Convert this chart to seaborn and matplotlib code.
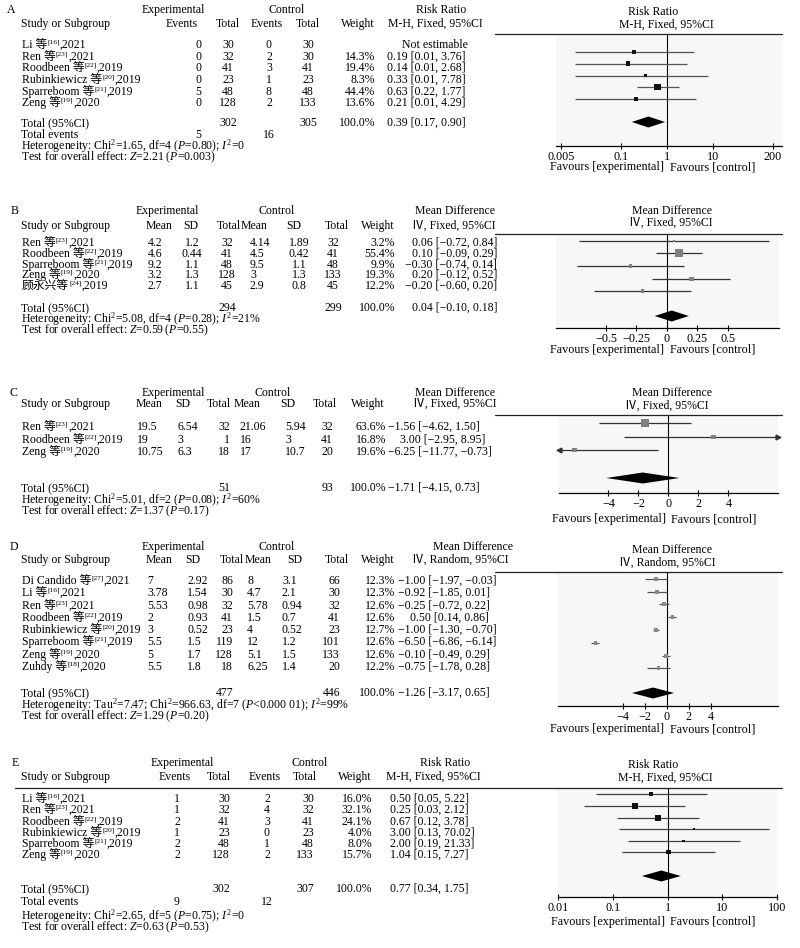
import numpy as np
import pandas as pd
import matplotlib
matplotlib.use('Agg')
import matplotlib.pyplot as plt
from matplotlib.ticker import NullLocator
import seaborn as sns

# ──────────────────────────────────────────────────────────────
# Data
# ──────────────────────────────────────────────────────────────

# A — risk ratio
a_study = ['Li', 'Ren', 'Roodbeen', 'Rubinkiewicz', 'Sparreboom', 'Zeng']
a_ref = [16, 23, 22, 20, 21, 19]
a_year = [2021, 2021, 2019, 2019, 2019, 2020]
a_exp_events = [0, 0, 0, 0, 5, 0]
a_exp_total = [30, 32, 41, 23, 48, 128]
a_ctl_events = [0, 2, 3, 1, 8, 2]
a_ctl_total = [30, 30, 41, 23, 48, 133]
a_weight = [np.nan, 14.3, 19.4, 8.3, 44.4, 13.6]
a_est = [np.nan, 0.19, 0.14, 0.33, 0.63, 0.21]
a_lo = [np.nan, 0.01, 0.01, 0.01, 0.22, 0.01]
a_hi = [np.nan, 3.76, 2.68, 7.78, 1.77, 4.29]
a_pooled = [0.39, 0.17, 0.90]
a_totals = [302, 305]
a_events = [5, 16]
a_het = r"Heterogeneity: Chi$^2$=1.65, df=4 ($P$=0.80); $I^2$=0"
a_test = r"Test for overall effect: $Z$=2.21 ($P$=0.003)"

# B — mean difference, fixed
b_study = ['Ren', 'Roodbeen', 'Sparreboom', 'Zeng', '顾永兴']
b_ref = [23, 22, 21, 19, 24]
b_year = [2021, 2019, 2019, 2020, 2019]
b_exp_mean = [4.2, 4.6, 9.2, 3.2, 2.7]
b_exp_sd = [1.2, 0.44, 1.1, 1.3, 1.1]
b_exp_n = [32, 41, 48, 128, 45]
b_ctl_mean = [4.14, 4.5, 9.5, 3, 2.9]
b_ctl_sd = [1.89, 0.42, 1.1, 1.3, 0.8]
b_ctl_n = [32, 41, 48, 133, 45]
b_weight = [3.2, 55.4, 9.9, 19.3, 12.2]
b_est = [0.06, 0.10, -0.30, 0.20, -0.20]
b_lo = [-0.72, -0.09, -0.74, -0.12, -0.60]
b_hi = [0.84, 0.29, 0.14, 0.52, 0.20]
b_pooled = [0.04, -0.10, 0.18]
b_totals = [294, 299]
b_het = r"Heterogeneity: Chi$^2$=5.08, df=4 ($P$=0.28); $I^2$=21%"
b_test = r"Test for overall effect: $Z$=0.59 ($P$=0.55)"

# C — mean difference, fixed
c_study = ['Ren', 'Roodbeen', 'Zeng']
c_ref = [23, 22, 19]
c_year = [2021, 2019, 2020]
c_exp_mean = [19.5, 19, 10.75]
c_exp_sd = [6.54, 3, 6.3]
c_exp_n = [32, 1, 18]
c_ctl_mean = [21.06, 16, 17]
c_ctl_sd = [5.94, 3, 10.7]
c_ctl_n = [32, 41, 20]
c_weight = [63.6, 16.8, 19.6]
c_est = [-1.56, 3.00, -6.25]
c_lo = [-4.62, -2.95, -11.77]
c_hi = [1.50, 8.95, -0.73]
c_pooled = [-1.71, -4.15, 0.73]
c_totals = [51, 93]
c_het = r"Heterogeneity: Chi$^2$=5.01, df=2 ($P$=0.08); $I^2$=60%"
c_test = r"Test for overall effect: $Z$=1.37 ($P$=0.17)"

# D — mean difference, random
d_study = ['Di Candido', 'Li', 'Ren', 'Roodbeen', 'Rubinkiewicz', 'Sparreboom', 'Zeng', 'Zuhdy']
d_ref = [27, 16, 23, 22, 20, 21, 19, 18]
d_year = [2021, 2021, 2021, 2019, 2019, 2019, 2020, 2020]
d_exp_mean = [7, 3.78, 5.53, 2, 3, 5.5, 5, 5.5]
d_exp_sd = [2.92, 1.54, 0.98, 0.93, 0.52, 1.5, 1.7, 1.8]
d_exp_n = [86, 30, 32, 41, 23, 119, 128, 18]
d_ctl_mean = [8, 4.7, 5.78, 1.5, 4, 12, 5.1, 6.25]
d_ctl_sd = [3.1, 2.1, 0.94, 0.7, 0.52, 1.2, 1.5, 1.4]
d_ctl_n = [66, 30, 32, 41, 23, 101, 133, 20]
d_weight = [12.3, 12.3, 12.6, 12.6, 12.7, 12.6, 12.6, 12.2]
d_est = [-1.00, -0.92, -0.25, 0.50, -1.00, -6.50, -0.10, -0.75]
d_lo = [-1.97, -1.85, -0.72, 0.14, -1.30, -6.86, -0.49, -1.78]
d_hi = [-0.03, 0.01, 0.22, 0.86, -0.70, -6.14, 0.29, 0.28]
d_pooled = [-1.26, -3.17, 0.65]
d_totals = [477, 446]
d_het = r"Heterogeneity: Tau$^2$=7.47; Chi$^2$=966.63, df=7 ($P$<0.000 01); $I^2$=99%"
d_test = r"Test for overall effect: $Z$=1.29 ($P$=0.20)"

# E — risk ratio
e_study = ['Li', 'Ren', 'Roodbeen', 'Rubinkiewicz', 'Sparreboom', 'Zeng']
e_ref = [16, 23, 22, 20, 21, 19]
e_year = [2021, 2021, 2019, 2019, 2019, 2020]
e_exp_events = [1, 1, 2, 1, 2, 2]
e_exp_total = [30, 32, 41, 23, 48, 128]
e_ctl_events = [2, 4, 3, 0, 1, 2]
e_ctl_total = [30, 32, 41, 23, 48, 133]
e_weight = [16.0, 32.1, 24.1, 4.0, 8.0, 15.7]
e_est = [0.50, 0.25, 0.67, 3.00, 2.00, 1.04]
e_lo = [0.05, 0.03, 0.12, 0.13, 0.19, 0.15]
e_hi = [5.22, 2.12, 3.78, 70.02, 21.33, 7.27]
e_pooled = [0.77, 0.34, 1.75]
e_totals = [302, 307]
e_events = [9, 12]
e_het = r"Heterogeneity: Chi$^2$=2.65, df=5 ($P$=0.75); $I^2$=0"
e_test = r"Test for overall effect: $Z$=0.63 ($P$=0.53)"

RR_TOP = ['Experimental', 'Control', 'Risk Ratio']
RR_SUB = ['Events', 'Total', 'Events', 'Total', 'Weight', 'M-H, Fixed, 95%CI']
MD_TOP = ['Experimental', 'Control', 'Mean Difference']
MD_SUB = ['Mean', 'SD', 'Total', 'Mean', 'SD', 'Total', 'Weight', 'Ⅳ, Fixed, 95%CI']
MD_SUB_R = MD_SUB[:-1] + ['Ⅳ, Random, 95%CI']

# ──────────────────────────────────────────────────────────────
# Layout (pixel positions on the 800x948 canvas)
# ──────────────────────────────────────────────────────────────

W, H = 800, 948
FS = 8.5

LAY = {
    'A': dict(lx=7, h1=10, h2=24, line=34, lx0=495,
              top=[173, 287, 441],
              sub=[(182, 'center'), (228, 'center'), (267, 'center'), (308, 'center'),
                   (375, 'right'), (435, 'center')],
              cols=[(198, 'center'), (228, 'center'), (269, 'center'), (308, 'center'),
                    (375, 'right'), (387, 'left')],
              rows=[45, 57, 68, 80, 92, 103], total=123, events=135, het=146, test=157,
              ax=(556, 782, 34, 146), prow=[40.5, 52, 63.5, 75.5, 87, 99], pdiam=122,
              ph=[(653, 12), (666, 25)], fav=167),
    'B': dict(lx=11, h1=211, h2=226, line=234, lx0=495,
              top=[167, 277, 455],
              sub=[(159, 'center'), (191, 'center'), (229, 'center'), (254, 'center'),
                   (294, 'center'), (337, 'center'), (395, 'right'), (454, 'center')],
              cols=[(155, 'center'), (192, 'center'), (227, 'center'), (250, 'left'),
                    (299, 'center'), (333, 'center'), (395, 'right'), (497, 'right')],
              rows=[243, 254, 265, 275, 286], total=308, het=319, test=330,
              ax=(556, 779, 234, 328), prow=[241, 253, 266, 279, 291], pdiam=316,
              ph=[(672, 211), (671, 223)], fav=350),
    'C': dict(lx=10, h1=393, h2=404, line=415, lx0=495,
              top=[173, 273, 455],
              sub=[(149, 'center'), (183, 'center'), (219, 'center'), (247, 'center'),
                   (288, 'center'), (325, 'center'), (385, 'right'), (455, 'center')],
              cols=[(137, 'left'), (177, 'left'), (230, 'right'), (240, 'left'),
                    (285, 'left'), (327, 'center'), (386, 'right'), (388, 'signed')],
              rows=[427, 440, 452], total=488, het=500, test=511,
              ax=(559, 778, 415, 493), prow=[423, 437, 450], pdiam=478,
              ph=[(672, 393), (667, 406)], fav=519),
    'D': dict(lx=10, h1=547, h2=560, line=572, lx0=495,
              top=[173, 277, 473],
              sub=[(159, 'center'), (193, 'center'), (232, 'center'), (258, 'center'),
                   (295, 'center'), (337, 'center'), (395, 'right'), (460, 'center')],
              cols=[(147, 'left'), (187, 'left'), (233, 'right'), (247, 'left'),
                    (282, 'left'), (340, 'right'), (395, 'right'), (398, 'signed')],
              rows=[581, 593, 606, 618, 630, 642, 655, 667], total=693, het=705, test=716,
              ax=(558, 778, 572, 706), prow=[579, 592, 604, 617, 630, 643, 656, 668],
              pdiam=693, ph=[(672, 550), (667, 563)], fav=729),
    'E': dict(lx=12, h1=763, h2=777, line=788, lx0=15,
              top=[182, 310, 445],
              sub=[(175, 'center'), (219, 'center'), (265, 'center'), (305, 'center'),
                   (372, 'right'), (433, 'center')],
              cols=[(177, 'center'), (230, 'right'), (267, 'center'), (314, 'right'),
                    (372, 'right'), (390, 'left')],
              rows=[799, 810, 822, 833, 844, 855], total=889, events=902, het=916, test=927,
              ax=(558, 777, 788, 897), prow=[794, 806, 818, 829, 841, 852], pdiam=876,
              ph=[(653, 765), (665, 778)], fav=922),
}

# ──────────────────────────────────────────────────────────────
# Style
# ──────────────────────────────────────────────────────────────

sns.set_theme(style='white')
plt.rcParams.update({
    'font.family': ['Liberation Serif', 'Noto Sans CJK SC', 'DejaVu Serif'],
    'mathtext.fontset': 'custom',
    'mathtext.rm': 'Liberation Serif',
    'mathtext.it': 'Liberation Serif:italic',
    'mathtext.bf': 'Liberation Serif:bold',
    'text.color': 'black',
})

fig = plt.figure(figsize=(W / 100, H / 100), dpi=100)
fig.patch.set_facecolor('white')
bg = fig.add_axes([0, 0, 1, 1])
bg.set_xlim(0, W)
bg.set_ylim(H, 0)
bg.axis('off')
bg.set_zorder(5)


def txt(x, y, s, ha='left', fs=FS):
    return bg.text(x, y, s, ha=ha, va='center', fontsize=fs)


def num(v):
    return f'{v:g}'


def ci(e, l, h):
    if np.isnan(e):
        return 'Not estimable'
    return f'{e:.2f} [{l:.2f}, {h:.2f}]'.replace('-', '\u2212')


def study_label(x, y, name, ref, year):
    base = y + 2.8
    sep = '' if ord(name[0]) > 0x2E80 else ' '
    t1 = bg.text(x, base, f'{name}{sep}等', fontsize=FS, va='baseline')
    t2 = bg.annotate(f'[{ref}]', xy=(1, base - 4), xycoords=(t1, 'data'),
                     fontsize=FS * 0.62, va='baseline', annotation_clip=False)
    bg.annotate(f',{year}', xy=(1, base), xycoords=(t2, 'data'),
                fontsize=FS, va='baseline', annotation_clip=False)


def cell(x, ha, y, s):
    if ha == 'signed':
        txt(x + (0 if s.startswith('\u2212') else 12.5), y, s)
    else:
        txt(x, y, s, ha)


def draw_table(key, top, sub, names, refs, years, columns, tot_idx, totals,
               het, test, events=None):
    L = LAY[key]
    txt(L['lx'], L['h1'], key)
    for x, s in zip(L['top'], top):
        txt(x, L['h1'], s, 'center')
    txt(21, L['h2'], 'Study or Subgroup')
    for (x, ha), s in zip(L['sub'], sub):
        txt(x, L['h2'], s, ha)
    bg.plot([L['lx0'], 782], [L['line'], L['line']], color='#222222', lw=0.9)

    for y, n, r, yr in zip(L['rows'], names, refs, years):
        study_label(22, y, n, r, yr)
    for (x, ha), vals in zip(L['cols'], columns):
        for y, s in zip(L['rows'], vals):
            if s == 'Not estimable':
                txt(L['sub'][-1][0], y, s, 'center')
            elif s:
                cell(x, ha, y, s)

    txt(21, L['total'], 'Total (95%CI)')
    for i, s in zip(tot_idx, totals):
        x, ha = L['cols'][i]
        cell(x, ha, L['total'], s)
    if events is not None:
        txt(21, L['events'], 'Total events')
        for i, s in zip([0, 2], events):
            x, ha = L['cols'][i]
            cell(x, ha, L['events'], s)
    txt(21, L['het'], het)
    txt(21, L['test'], test)


def draw_forest(key, est, lo, hi, weight, pooled, xlim, ticks, ticklabels,
                header, log=False, line_c='#444444', sq_c='#111111'):
    L = LAY[key]
    x0, x1, y0, y1 = L['ax']
    ax = fig.add_axes([x0 / W, 1 - y1 / H, (x1 - x0) / W, (y1 - y0) / H])
    ax.set_facecolor('#f7f7f7')
    if log:
        ax.set_xscale('log')
    null = 1 if log else 0

    df = pd.DataFrame({'est': est, 'lo': lo, 'hi': hi, 'w': weight,
                       'y': L['prow']}).dropna()
    ax.hlines(df['y'], df['lo'].clip(lower=xlim[0]), df['hi'].clip(upper=xlim[1]),
              color=line_c, lw=0.9, zorder=2)
    left = df[df['lo'] < xlim[0]]
    right = df[df['hi'] > xlim[1]]
    ax.plot([xlim[0]] * len(left), left['y'], ls='none', marker='<', ms=3.5,
            color=line_c, clip_on=False, zorder=2)
    ax.plot([xlim[1]] * len(right), right['y'], ls='none', marker='>', ms=3.5,
            color=line_c, clip_on=False, zorder=2)
    sns.scatterplot(data=df, x='est', y='y', s=df['w'].values * 0.57, marker='s',
                    color=sq_c, edgecolor='none', legend=False, ax=ax, zorder=3)

    ax.axvline(null, color='black', lw=0.8, zorder=1)
    pe, pl, ph = pooled
    yd = L['pdiam']
    ax.fill([pl, pe, ph, pe], [yd, yd - 5.5, yd, yd + 5.5], color='black', lw=0, zorder=4)

    ax.set_xlim(xlim)
    ax.set_ylim(y1, y0)
    ax.set_xlabel('')
    ax.set_ylabel('')
    ax.set_yticks([])
    ax.set_xticks(ticks)
    ax.set_xticklabels(ticklabels)
    ax.xaxis.set_minor_locator(NullLocator())
    ax.tick_params(axis='x', which='major', direction='inout', length=4, width=0.8,
                   labelsize=8.7, pad=1.5, colors='black', bottom=True)
    for s in ['top', 'left', 'right']:
        ax.spines[s].set_visible(False)
    ax.spines['bottom'].set_color('black')
    ax.spines['bottom'].set_linewidth(0.9)

    for (x, y), s in zip(L['ph'], header):
        txt(x, y, s, 'center')
    ax.annotate('Favours [experimental]', xy=(null, L['fav']),
                xycoords=('data', bg.transData), xytext=(-2, 0), textcoords='offset points',
                ha='right', va='center', fontsize=8.7, annotation_clip=False)
    ax.annotate('Favours [control]', xy=(null, L['fav']),
                xycoords=('data', bg.transData), xytext=(2, 0), textcoords='offset points',
                ha='left', va='center', fontsize=8.7, annotation_clip=False)
    return ax


def pct(ws):
    return ['' if np.isnan(w) else f'{w:.1f}%' for w in ws]


# ── Panel A ──
draw_table('A', RR_TOP, RR_SUB, a_study, a_ref, a_year,
           [[num(v) for v in a_exp_events], [num(v) for v in a_exp_total],
            [num(v) for v in a_ctl_events], [num(v) for v in a_ctl_total],
            pct(a_weight), [ci(*t) for t in zip(a_est, a_lo, a_hi)]],
           [1, 3, 4, 5], [num(a_totals[0]), num(a_totals[1]), '100.0%', ci(*a_pooled)],
           a_het, a_test, events=[num(v) for v in a_events])
draw_forest('A', a_est, a_lo, a_hi, a_weight, a_pooled, (10 ** -2.42, 10 ** 2.5),
            [0.005, 0.1, 1, 10, 200], ['0.005', '0.1', '1', '10', '200'],
            ['Risk Ratio', 'M-H, Fixed, 95%CI'], log=True, line_c='#555555', sq_c='#111111')

# ── Panel B ──
draw_table('B', MD_TOP, MD_SUB, b_study, b_ref, b_year,
           [[num(v) for v in b_exp_mean], [num(v) for v in b_exp_sd], [num(v) for v in b_exp_n],
            [num(v) for v in b_ctl_mean], [num(v) for v in b_ctl_sd], [num(v) for v in b_ctl_n],
            pct(b_weight), [ci(*t) for t in zip(b_est, b_lo, b_hi)]],
           [2, 5, 6, 7], [num(b_totals[0]), num(b_totals[1]), '100.0%', ci(*b_pooled)],
           b_het, b_test)
draw_forest('B', b_est, b_lo, b_hi, b_weight, b_pooled, (-0.91, 0.92),
            [-0.5, -0.25, 0, 0.25, 0.5], ['\u22120.5', '\u22120.25', '0', '0.25', '0.5'],
            ['Mean Difference', 'Ⅳ, Fixed, 95%CI'], line_c='#333333', sq_c='#808080')

# ── Panel C ──
draw_table('C', MD_TOP, MD_SUB, c_study, c_ref, c_year,
           [[num(v) for v in c_exp_mean], [num(v) for v in c_exp_sd], [num(v) for v in c_exp_n],
            [num(v) for v in c_ctl_mean], [num(v) for v in c_ctl_sd], [num(v) for v in c_ctl_n],
            pct(c_weight), [ci(*t) for t in zip(c_est, c_lo, c_hi)]],
           [2, 5, 6, 7], [num(c_totals[0]), num(c_totals[1]), '100.0%', ci(*c_pooled)],
           c_het, c_test)
draw_forest('C', c_est, c_lo, c_hi, c_weight, c_pooled, (-7.3, 7.3),
            [-4, -2, 0, 2, 4], ['\u22124', '\u22122', '0', '2', '4'],
            ['Mean Difference', 'Ⅳ, Fixed, 95%CI'], line_c='#333333', sq_c='#808080')

# ── Panel D ──
draw_table('D', MD_TOP, MD_SUB_R, d_study, d_ref, d_year,
           [[num(v) for v in d_exp_mean], [num(v) for v in d_exp_sd], [num(v) for v in d_exp_n],
            [num(v) for v in d_ctl_mean], [num(v) for v in d_ctl_sd], [num(v) for v in d_ctl_n],
            pct(d_weight), [ci(*t) for t in zip(d_est, d_lo, d_hi)]],
           [2, 5, 6, 7], [num(d_totals[0]), num(d_totals[1]), '100.0%', ci(*d_pooled)],
           d_het, d_test)
draw_forest('D', d_est, d_lo, d_hi, d_weight, d_pooled, (-9.9, 10.1),
            [-4, -2, 0, 2, 4], ['\u22124', '\u22122', '0', '2', '4'],
            ['Mean Difference', 'Ⅳ, Random, 95%CI'], line_c='#555555', sq_c='#888888')

# ── Panel E ──
draw_table('E', RR_TOP, RR_SUB, e_study, e_ref, e_year,
           [[num(v) for v in e_exp_events], [num(v) for v in e_exp_total],
            [num(v) for v in e_ctl_events], [num(v) for v in e_ctl_total],
            pct(e_weight), [ci(*t) for t in zip(e_est, e_lo, e_hi)]],
           [1, 3, 4, 5], [num(e_totals[0]), num(e_totals[1]), '100.0%', ci(*e_pooled)],
           e_het, e_test, events=[num(v) for v in e_events])
draw_forest('E', e_est, e_lo, e_hi, e_weight, e_pooled, (0.01, 100),
            [0.01, 0.1, 1, 10, 100], ['0.01', '0.1', '1', '10', '100'],
            ['Risk Ratio', 'M-H, Fixed, 95%CI'], log=True, line_c='#444444', sq_c='#111111')

fig.savefig('out.png', dpi=100, facecolor='white')
